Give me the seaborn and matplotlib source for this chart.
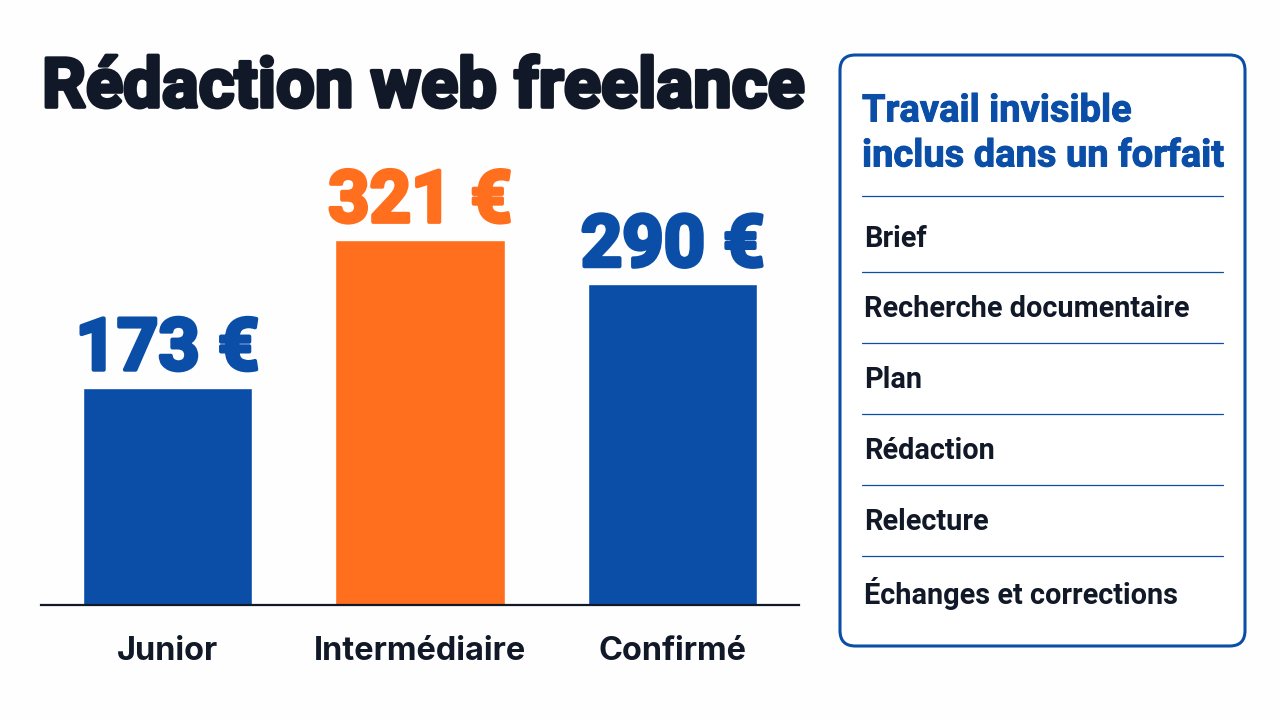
import matplotlib
matplotlib.use('Agg')
from matplotlib import pyplot as plt
from matplotlib.patches import FancyBboxPatch
from matplotlib import patheffects as pe
import seaborn as sns
import pandas as pd

title = 'Rédaction web freelance'
levels = ['Junior', 'Intermédiaire', 'Confirmé']
rates = [173, 321, 290]
# bars in the picture are not in proportion with their labels, so heights are read off separately
bar_heights = [191, 321, 282]
bar_colors = ['#0B4EA8', '#FF6F1E', '#0B4EA8']
panel_title = ['Travail invisible', 'inclus dans un forfait']
panel_items = ['Brief', 'Recherche documentaire', 'Plan', 'Rédaction', 'Relecture', 'Échanges et corrections']

BLUE = '#0B4EA8'
DARK = '#111827'
BG = '#FEFEFE'

sns.set_theme(style='white')
plt.rcParams['font.family'] = ['Inter', 'DejaVu Sans']

W, H = 1280, 720
fig = plt.figure(figsize=(W / 100, H / 100), dpi=100, facecolor=BG)

# bars: baseline at y=605, tallest reaches y=240
ax = fig.add_axes([41 / W, 1 - 605 / H, (799 - 41) / W, (605 - 240) / H])
ax.set_facecolor('none')
df = pd.DataFrame({'level': levels, 'height': bar_heights})
sns.barplot(data=df, x='level', y='height', hue='level', palette=bar_colors,
            legend=False, width=0.67, saturation=1, ax=ax)
ax.set_ylim(0, 321)
ax.set_xlim(-0.5, 2.5)
ax.set_xlabel('')
ax.set_ylabel('')
ax.set_yticks([])
ax.tick_params(axis='x', length=0, pad=22)
for lab in ax.get_xticklabels():
    lab.set_fontsize(23.4)
    lab.set_fontweight('bold')
    lab.set_color(DARK)
sns.despine(ax=ax, left=True)
ax.spines['bottom'].set_color(DARK)
ax.spines['bottom'].set_linewidth(1.6)

# value labels over the bars
for i, v in enumerate(rates):
    ax.annotate(f'{v} €', (i, bar_heights[i]), xytext=(0, 13), textcoords='offset points',
                ha='center', va='baseline', fontsize=52, fontweight='bold', family='Roboto',
                color=bar_colors[i], clip_on=False,
                path_effects=[pe.withStroke(linewidth=2.8, foreground=bar_colors[i])])

fig.text(42 / W, 1 - 107 / H, title, fontsize=49.5, fontweight='bold', family='Roboto', color=DARK,
         va='baseline', ha='left',
         path_effects=[pe.withStroke(linewidth=2.6, foreground=DARK)])

# side panel
panel = FancyBboxPatch((840 / W, 1 - 646 / H), 405 / W, 591 / H,
                       boxstyle='round,pad=0,rounding_size=0.012', mutation_aspect=W / H,
                       transform=fig.transFigure, fc='white', ec=BLUE, lw=2.2)
fig.add_artist(panel)
for y, line in zip([111, 156], panel_title):
    fig.text(862 / W, 1 - y / H, line, fontsize=27.4, fontweight='bold', family='Roboto', color=BLUE,
             va='center', ha='left',
             path_effects=[pe.withStroke(linewidth=0.7, foreground=BLUE)])

rule_y = [196, 272, 343, 414, 485, 556]
text_y = [239, 309, 380, 451, 522, 593]
for ry, ty, item in zip(rule_y, text_y, panel_items):
    fig.add_artist(plt.Line2D([862 / W, 1223 / W], [1 - ry / H, 1 - ry / H],
                              transform=fig.transFigure, color=BLUE, lw=0.9))
    fig.text(864 / W, 1 - ty / H, item, fontsize=20.8, fontweight='bold', family='Roboto', color=DARK,
             va='center', ha='left')

fig.savefig('out.png', dpi=100, facecolor=fig.get_facecolor())
